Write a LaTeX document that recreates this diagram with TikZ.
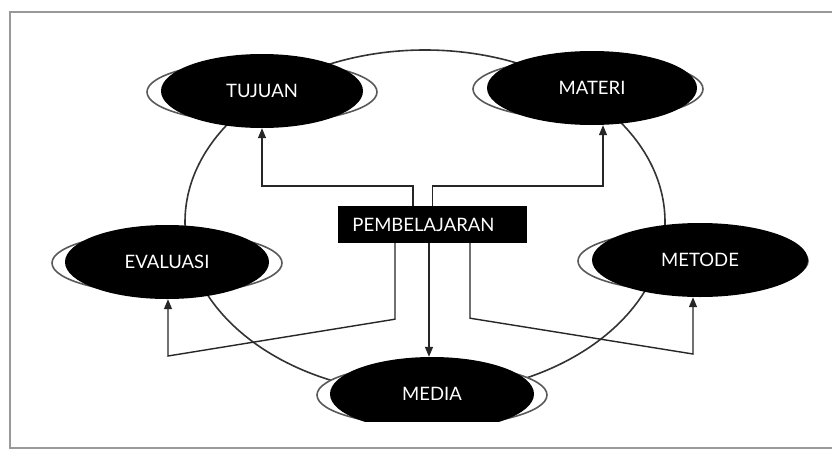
\documentclass[tikz,border=0pt]{standalone}
\usepackage{fontspec}
\setmainfont{Lato}
\usetikzlibrary{shapes.geometric,arrows.meta}
\tikzset{
  blackell/.style={ellipse,fill=black,inner sep=0pt,minimum height=74pt,text=white,font=\fontsize{18.5}{20}\selectfont},
  ringell/.style={draw=gray!70!black,line width=1.6pt,fill=white},
  arr/.style={draw=black!85,line width=1.4pt,-{Triangle[length=10pt,width=8pt]}},
  bigring/.style={draw=black!80,line width=1.6pt},
}
\begin{document}
\begin{tikzpicture}[x=1pt,y=-1pt]
\useasboundingbox (0,0) rectangle (832,450);
\fill[white] (0,0) rectangle (832,450);
\draw[gray!80,line width=2.2pt] (10,12) rectangle (845,448);
% big ellipse
\draw[bigring] (425,222) ellipse [x radius=240pt, y radius=172pt];
% rings
\path[ringell] (262,92) ellipse [x radius=115pt, y radius=31pt];
\path[ringell] (588,89) ellipse [x radius=115pt, y radius=31pt];
\path[ringell] (167,263) ellipse [x radius=115pt, y radius=31pt];
\path[ringell] (693,261) ellipse [x radius=115pt, y radius=31pt];
% nodes
\node[blackell,minimum width=202pt] (tj) at (262,91) {TUJUAN};
\node[blackell,minimum width=210pt] (mt) at (592,88) {MATERI};
\node[blackell,minimum width=204pt] (ev) at (167,262) {EVALUASI};
\node[blackell,minimum width=216pt] (me) at (700,260) {METODE};
\begin{scope}
\clip (0,0) rectangle (832,421);
\path[ringell] (432,395) ellipse [x radius=115pt, y radius=31pt];
\node[blackell,minimum width=204pt] (md) at (432,394) {MEDIA};
\end{scope}
\node[fill=black,text=white,minimum width=189pt,minimum height=37pt,inner sep=0pt,font=\fontsize{18.5}{20}\selectfont] (pb) at (432.5,224.5) {PEMBELAJARAN\hspace*{18pt}};
% arrows
\draw[arr] ([xshift=-19.5pt]pb.north) |- (262,186) -- (tj.south);
\draw[arr] (pb.north) |- (603,186) -- ([xshift=11pt]mt.south);
\draw[arr] ([xshift=-3.5pt]pb.south) -- ([xshift=-3pt]md.north);
\draw[arr] ([xshift=-37.5pt]pb.south) -- ++(0,76) -- (168,356) -- ([xshift=1pt]ev.south);
\draw[arr] ([xshift=37.5pt]pb.south) -- ++(0,75) -- (693,354) -- ([xshift=-7pt]me.south);
\end{tikzpicture}
\end{document}
